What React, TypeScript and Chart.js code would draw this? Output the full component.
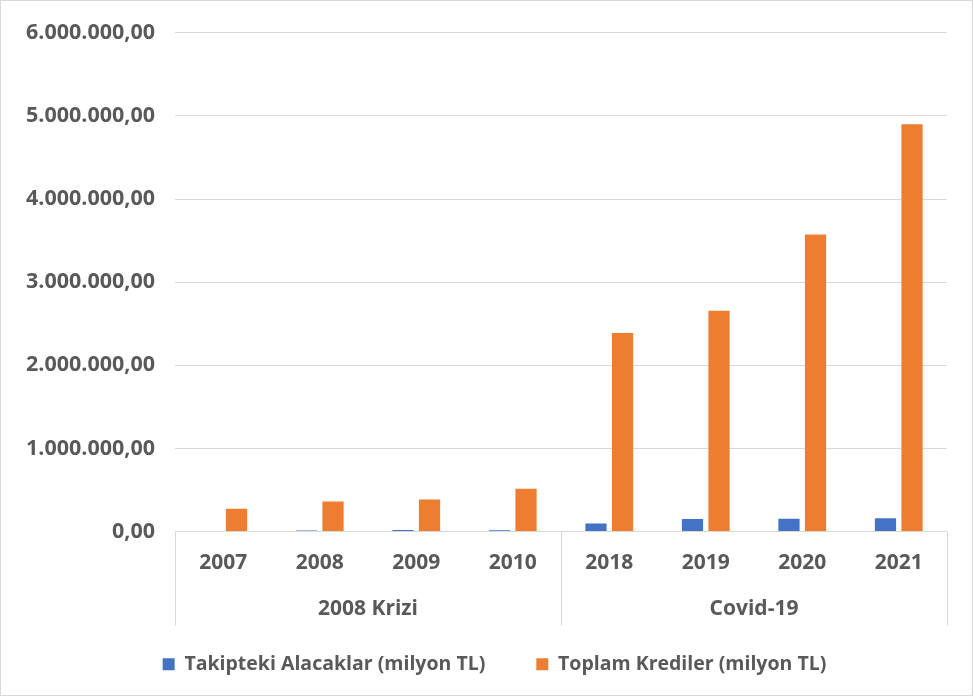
import React, { useEffect, useRef } from "react";
import { Chart, registerables } from "chart.js";

Chart.register(...registerables);

const categories = ["2007", "2008", "2009", "2010", "2018", "2019", "2020", "2021"];
const groupLabels = ["2008 Krizi", "Covid-19"];
const groupSizes = [4, 4];
const takipteki = [6000, 11000, 19000, 14000, 96000, 150000, 153000, 158000];
const toplam = [275000, 360000, 385000, 515000, 2390000, 2655000, 3575000, 4900000];
const seriesNames = ["Takipteki Alacaklar (milyon TL)", "Toplam Krediler (milyon TL)"];

const FONT = "'Open Sans', sans-serif";
const TEXT = "#595959";
const GRID = "#D9D9D9";
const LEGEND_SHIFT = 21;

function formatTR(v: number): string {
  const s = Math.round(v).toString();
  const parts: string[] = [];
  for (let i = s.length; i > 0; i -= 3) parts.unshift(s.slice(Math.max(0, i - 3), i));
  return parts.join(".") + ",00";
}

const groupPlugin = {
  id: "groupPlugin",
  afterLayout(chart: any) {
    if (chart.legend) {
      chart.legend.left += LEGEND_SHIFT;
      chart.legend.right += LEGEND_SHIFT;
    }
  },
  beforeDraw(chart: any) {
    const ctx = chart.ctx;
    ctx.save();
    ctx.fillStyle = "#ffffff";
    ctx.fillRect(0, 0, chart.width, chart.height);
    ctx.strokeStyle = GRID;
    ctx.lineWidth = 1;
    ctx.strokeRect(0.5, 0.5, chart.width - 2, chart.height - 2);
    ctx.restore();
  },
  afterDraw(chart: any) {
    const ctx = chart.ctx;
    const x = chart.scales.x;
    const w = x.getPixelForValue(1) - x.getPixelForValue(0);
    ctx.save();
    ctx.strokeStyle = GRID;
    ctx.lineWidth = 1;
    let idx = 0;
    const bounds: number[] = [x.getPixelForValue(0) - w / 2];
    groupSizes.forEach((g) => {
      idx += g;
      bounds.push(x.getPixelForValue(idx - 1) + w / 2);
    });
    bounds.forEach((bx) => {
      const px = Math.round(bx) + 0.5;
      ctx.beginPath();
      ctx.moveTo(px, x.top);
      ctx.lineTo(px, x.top + 94);
      ctx.stroke();
    });
    ctx.fillStyle = TEXT;
    ctx.font = `bold 21px ${FONT}`;
    ctx.textAlign = "center";
    ctx.textBaseline = "middle";
    groupLabels.forEach((lab, i) => {
      ctx.fillText(lab, (bounds[i] + bounds[i + 1]) / 2, x.top + 78);
    });
    ctx.restore();
  },
};

export default function App() {
  const ref = useRef<HTMLCanvasElement>(null);
  useEffect(() => {
    const chart = new Chart(ref.current!, {
      type: "bar",
      data: {
        labels: categories,
        datasets: [
          { label: seriesNames[0], data: takipteki, backgroundColor: "#4472C4", borderWidth: 0 },
          { label: seriesNames[1], data: toplam, backgroundColor: "#ED7D31", borderWidth: 0 },
        ],
      },
      options: {
        animation: false,
        responsive: false,
        maintainAspectRatio: false,
        datasets: { bar: { categoryPercentage: 0.55, barPercentage: 0.8 } },
        layout: { padding: { left: 0, right: 27, top: 30, bottom: 13 } },
        scales: {
          x: {
            grid: { display: false, drawTicks: false },
            border: { display: false },
            ticks: { color: TEXT, font: { family: FONT, size: 21, weight: "bold" }, padding: 19, maxRotation: 0 },
            afterFit: (s: any) => { s.height = 72; },
          },
          y: {
            min: 0,
            max: 6000000,
            ticks: {
              stepSize: 1000000,
              color: TEXT,
              font: { family: FONT, size: 21.5, weight: "bold" },
              padding: 20,
              callback: (v: any) => formatTR(Number(v)),
            },
            grid: { color: GRID, drawTicks: false },
            border: { display: false },
            afterFit: (s: any) => { s.width = 175; },
          },
        },
        plugins: {
          legend: {
            position: "bottom",
            labels: {
              color: TEXT,
              font: { family: FONT, size: 19.5, weight: "bold" },
              boxWidth: 12,
              boxHeight: 12,
              padding: 51,
            },
          },
          tooltip: { enabled: false },
        },
      },
      plugins: [groupPlugin],
    } as any);
    return () => chart.destroy();
  }, []);
  return (
    <div style={{ position: "fixed", left: 0, top: 0, width: 974, height: 697, background: "#fff" }}>
      <canvas ref={ref} width={974} height={697} style={{ width: 974, height: 697 }} />
    </div>
  );
}
